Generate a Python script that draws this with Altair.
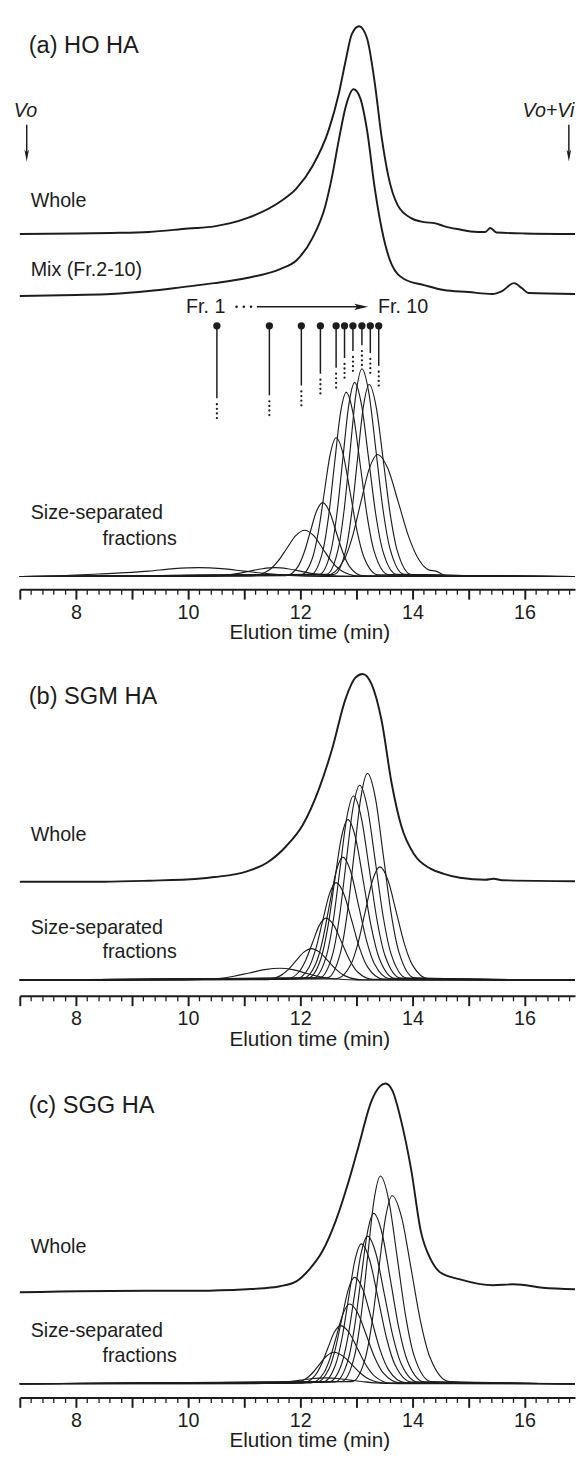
import altair as alt
import pandas as pd

FONT = "Liberation Sans"
INK = "#1c1c1c"

X_DOMAIN = [7.0, 16.9]
PLOT_W = 564
H_A, H_B, H_C = 579, 350, 345
SPACING = 63          # distance between plot areas (flush layout)
MAJOR_TICKS = [7, 8, 9, 10, 11, 12, 13, 14, 15, 16]
MINOR_TICKS = [round(7 + 0.2 * i, 1) for i in range(50) if i % 5 != 0]

# ---------------- panel (a) HO HA ----------------
A_WHOLE_T = [7.0, 8.0, 8.63, 9.30, 10.0, 10.47, 11.05, 11.64, 11.93, 12.22, 12.51, 12.69, 12.81, 12.92, 13.05,
             13.19, 13.33, 13.45, 13.57, 13.74, 13.98, 14.21, 14.39, 14.56, 14.8, 15.16, 15.30, 15.39, 15.5, 16.0, 16.9]
A_WHOLE_S = [0, 0.5, 1, 2, 5.5, 7.7, 16, 32.7, 46, 69, 106, 143, 176, 203, 211,
             199, 153, 99, 59, 29, 16, 12, 11, 8, 5, 2, 2, 6, 1.5, 0.5, 0]
A_MIX_T = [7.0, 8.0, 8.63, 9.30, 9.9, 10.47, 11.05, 11.64, 11.93, 12.22, 12.45, 12.57, 12.69, 12.81, 12.95,
           13.07, 13.19, 13.33, 13.45, 13.63, 13.86, 14.21, 14.56, 15.0, 15.42, 15.6, 15.81, 15.95, 16.07, 16.9]
A_MIX_S = [-2, -1, 0, 3, 7, 11, 16.3, 25.3, 34, 57, 90, 120, 157, 190, 208,
           199, 167, 107, 67, 30, 15, 9, 4, 2, 0, 3, 11, 6, 1, 0]
A_FR_T = [
    [7.0, 7.6, 8.4, 9.3, 9.75, 10.2, 10.6, 11.0, 11.4, 11.8, 12.4, 16.9],
    [7.0, 10.2, 10.65, 10.875, 11.1, 11.325, 11.55, 11.775, 12.0, 12.225, 12.45, 12.9, 16.9],
    [7.0, 11.12, 11.44, 11.60, 11.76, 11.92, 12.08, 12.24, 12.40, 12.56, 12.72, 13.04, 16.9],
    [7.0, 11.74, 11.96, 12.07, 12.18, 12.29, 12.40, 12.52, 12.64, 12.76, 12.88, 13.12, 16.9],
    [7.0, 12.01, 12.22, 12.325, 12.43, 12.535, 12.64, 12.765, 12.89, 13.015, 13.14, 13.39, 16.9],
    [7.0, 12.19, 12.40, 12.505, 12.61, 12.715, 12.82, 12.945, 13.07, 13.195, 13.32, 13.57, 16.9],
    [7.0, 12.34, 12.55, 12.655, 12.76, 12.865, 12.97, 13.095, 13.22, 13.345, 13.47, 13.72, 16.9],
    [7.0, 12.47, 12.68, 12.785, 12.89, 12.995, 13.10, 13.225, 13.35, 13.475, 13.60, 13.85, 16.9],
    [7.0, 12.60, 12.81, 12.915, 13.02, 13.125, 13.23, 13.355, 13.48, 13.605, 13.73, 13.98, 16.9],
    [7.0, 12.48, 12.78, 12.93, 13.08, 13.23, 13.38, 13.565, 13.75, 13.935, 14.12, 14.3, 14.42, 14.6, 16.9],
]
A_FR_S = [
    [0, 0.5, 2.5, 5.5, 8, 9, 8, 5.5, 3, 1.2, 0.2, 0],
    [0, 0.1, 1.2, 2.9, 5.5, 7.9, 9, 7.9, 5.5, 2.9, 1.2, 0.1, 0],
    [0, 0.5, 6.3, 15.3, 28.5, 41.5, 47, 41.5, 28.5, 15.3, 6.3, 0.5, 0],
    [0, 0.8, 10.1, 24.4, 45.5, 66.2, 75, 66.2, 45.5, 24.4, 10.1, 0.8, 0],
    [0, 1.6, 19.0, 45.8, 85.6, 124.4, 141, 124.4, 85.6, 45.8, 19.0, 1.6, 0],
    [0, 2.1, 25.2, 60.8, 113.5, 164.9, 187, 164.9, 113.5, 60.8, 25.2, 2.1, 0],
    [0, 2.2, 26.6, 64.0, 119.6, 173.8, 197, 173.8, 119.6, 64.0, 26.6, 2.2, 0],
    [0, 2.3, 28.5, 68.6, 128.1, 186.1, 211, 186.1, 128.1, 68.6, 28.5, 2.3, 0],
    [0, 2.1, 26.3, 63.4, 118.4, 172.0, 195, 172.0, 118.4, 63.4, 26.3, 2.1, 0],
    [0, 1.4, 16.7, 40.3, 75.3, 109.4, 124, 109.4, 75.3, 40.3, 16.7, 6.5, 5.5, 1.0, 0],
]
A_OFFSETS = {"whole": 361, "mix": 300, "fractions": 13}

# fraction markers of panel (a)
MARK_T = [10.514, 11.45, 12.02, 12.36, 12.64, 12.79, 12.94, 13.10, 13.25, 13.40]
MARK_TOP = 267.7
MARK_END = [194, 197, 207, 219, 225, 235, 242, 248, 240, 227]

# ---------------- panel (b) SGM HA ----------------
B_WHOLE_T = [7.0, 8.5, 9.30, 10.18, 10.47, 11.05, 11.40, 11.75, 12.05, 12.34, 12.57, 12.81, 12.98, 13.11,
             13.27, 13.45, 13.63, 13.80, 14.04, 14.33, 14.56, 14.85, 15.3, 15.45, 15.6, 16.9]
B_WHOLE_S = [0, 0, 1, 3, 4.7, 10.5, 19, 36, 58, 95, 135, 186, 207, 211,
             201, 164, 100, 57, 27, 13, 8, 4, 2, 3, 1.5, 0.5]
B_FR_T = [
    [7.0, 9.99, 10.54, 10.815, 11.09, 11.365, 11.64, 11.865, 12.09, 12.315, 12.54, 12.99, 16.9],
    [7.0, 11.36, 11.64, 11.78, 11.92, 12.06, 12.20, 12.35, 12.50, 12.65, 12.80, 13.10, 16.9],
    [7.0, 11.74, 11.98, 12.10, 12.22, 12.34, 12.46, 12.60, 12.74, 12.88, 13.02, 13.30, 16.9],
    [7.0, 11.92, 12.16, 12.28, 12.40, 12.52, 12.64, 12.78, 12.92, 13.06, 13.20, 13.48, 16.9],
    [7.0, 12.04, 12.28, 12.40, 12.52, 12.64, 12.76, 12.90, 13.04, 13.18, 13.32, 13.60, 16.9],
    [7.0, 12.13, 12.37, 12.49, 12.61, 12.73, 12.85, 12.99, 13.13, 13.27, 13.41, 13.69, 16.9],
    [7.0, 12.23, 12.47, 12.59, 12.71, 12.83, 12.95, 13.09, 13.23, 13.37, 13.51, 13.79, 16.9],
    [7.0, 12.34, 12.58, 12.70, 12.82, 12.94, 13.06, 13.20, 13.34, 13.48, 13.62, 13.90, 16.9],
    [7.0, 12.48, 12.72, 12.84, 12.96, 13.08, 13.20, 13.34, 13.48, 13.62, 13.76, 14.04, 16.9],
    [7.0, 12.64, 12.90, 13.03, 13.16, 13.29, 13.42, 13.565, 13.71, 13.855, 14.00, 14.29, 16.9],
]
B_FR_S = [
    [0, 0.1, 1.6, 3.9, 7.3, 10.6, 12, 10.6, 7.3, 3.9, 1.6, 0.1, 0],
    [0, 0.4, 4.3, 10.4, 19.4, 28.2, 32, 28.2, 19.4, 10.4, 4.3, 0.4, 0],
    [0, 0.7, 8.5, 20.5, 38.2, 55.6, 63, 55.6, 38.2, 20.5, 8.5, 0.7, 0],
    [0, 1.1, 13.4, 32.2, 60.1, 87.3, 99, 87.3, 60.1, 32.2, 13.4, 1.1, 0],
    [0, 1.4, 16.9, 40.6, 75.9, 110.3, 125, 110.3, 75.9, 40.6, 16.9, 1.4, 0],
    [0, 1.8, 22.0, 53.0, 98.9, 143.8, 163, 143.8, 98.9, 53.0, 22.0, 1.8, 0],
    [0, 2.1, 25.2, 60.8, 113.5, 164.9, 187, 164.9, 113.5, 60.8, 25.2, 2.1, 0],
    [0, 2.2, 26.7, 64.4, 120.2, 174.6, 198, 174.6, 120.2, 64.4, 26.7, 2.2, 0],
    [0, 2.3, 28.4, 68.3, 127.5, 185.2, 210, 185.2, 127.5, 68.3, 28.4, 2.3, 0],
    [0, 1.3, 15.5, 37.4, 69.8, 101.4, 115, 101.4, 69.8, 37.4, 15.5, 1.3, 0],
]
B_OFFSETS = {"whole": 116, "fractions": 16}

# ---------------- panel (c) SGG HA ----------------
C_WHOLE_T = [7.0, 9.30, 10.18, 11.05, 11.35, 11.64, 11.93, 12.16, 12.40, 12.63, 12.86, 13.04, 13.27, 13.42,
             13.52, 13.65, 13.80, 13.98, 14.15, 14.33, 14.50, 14.85, 15.44, 15.79, 15.95, 16.32, 16.9]
C_WHOLE_S = [0, 1.5, 1.5, 3, 4, 6, 11, 23, 42, 72, 112, 148, 194, 209,
             212, 204, 174, 124, 62, 33, 20, 13, 7, 8, 7.5, 4.5, 3]
C_FR_T = [
    [7.0, 11.10, 11.55, 11.775, 12.0, 12.225, 12.45, 12.675, 12.90, 13.125, 13.35, 13.80, 16.9],
    [7.0, 11.82, 12.08, 12.21, 12.34, 12.47, 12.60, 12.76, 12.92, 13.08, 13.24, 13.56, 16.9],
    [7.0, 12.03, 12.26, 12.375, 12.49, 12.605, 12.72, 12.87, 13.02, 13.17, 13.32, 13.62, 16.9],
    [7.0, 12.19, 12.42, 12.535, 12.65, 12.765, 12.88, 13.03, 13.18, 13.33, 13.48, 13.78, 16.9],
    [7.0, 12.28, 12.51, 12.625, 12.74, 12.855, 12.97, 13.12, 13.27, 13.42, 13.57, 13.87, 16.9],
    [7.0, 12.40, 12.63, 12.745, 12.86, 12.975, 13.09, 13.24, 13.39, 13.54, 13.69, 13.99, 16.9],
    [7.0, 12.51, 12.74, 12.855, 12.97, 13.085, 13.20, 13.35, 13.50, 13.65, 13.80, 14.10, 16.9],
    [7.0, 12.62, 12.85, 12.965, 13.08, 13.195, 13.31, 13.46, 13.61, 13.76, 13.91, 14.21, 16.9],
    [7.0, 12.74, 12.97, 13.085, 13.20, 13.315, 13.43, 13.58, 13.73, 13.88, 14.03, 14.33, 16.9],
    [7.0, 12.92, 13.16, 13.28, 13.40, 13.52, 13.64, 13.81, 13.98, 14.15, 14.32, 14.66, 16.9],
]
C_FR_S = [
    [0, 0.1, 0.8, 2.0, 3.6, 5.3, 6, 5.3, 3.6, 2.0, 0.8, 0.1, 0],
    [0, 0.4, 4.3, 10.4, 19.4, 28.2, 32, 28.2, 19.4, 10.4, 4.3, 0.4, 0],
    [0, 0.6, 8.0, 19.2, 35.8, 52.0, 59, 52.0, 35.8, 19.2, 8.0, 0.6, 0],
    [0, 0.9, 10.9, 26.3, 49.2, 71.4, 81, 71.4, 49.2, 26.3, 10.9, 0.9, 0],
    [0, 1.2, 14.6, 35.1, 65.6, 95.3, 108, 95.3, 65.6, 35.1, 14.6, 1.2, 0],
    [0, 1.6, 19.2, 46.2, 86.2, 125.2, 142, 125.2, 86.2, 46.2, 19.2, 1.6, 0],
    [0, 1.7, 20.3, 48.8, 91.1, 132.3, 150, 132.3, 91.1, 48.8, 20.3, 1.7, 0],
    [0, 1.9, 23.4, 56.2, 105.0, 152.6, 173, 152.6, 105.0, 56.2, 23.4, 1.9, 0],
    [0, 2.3, 28.5, 68.6, 128.1, 186.1, 211, 186.1, 128.1, 68.6, 28.5, 2.3, 0],
    [0, 2.1, 25.8, 62.1, 115.9, 168.5, 191, 168.5, 115.9, 62.1, 25.8, 2.1, 0],
]
C_OFFSETS = {"whole": 107, "fractions": 14}

# ---------------- helpers ----------------
XSCALE = alt.Scale(domain=X_DOMAIN, nice=False, zero=False)
MAJOR_AXIS = alt.Axis(
    orient="bottom",
    values=MAJOR_TICKS,
    tickSize=10,
    tickWidth=2,
    tickColor=INK,
    domainColor=INK,
    domainWidth=2,
    labelExpr="datum.value % 2 === 0 ? format(datum.value, 'd') : ''",
    labelFont=FONT,
    labelFontSize=20,
    labelColor=INK,
    labelPadding=3.5,
    labelOverlap=False,
    labelFlush=False,
    grid=False,
    title="Elution time (min)",
    titleFont=FONT,
    titleFontSize=21,
    titleFontWeight="normal",
    titleColor=INK,
    titleX=294,
    titleY=50,
    titleBaseline="alphabetic",
    titleAlign="center",
)
MINOR_AXIS = alt.Axis(
    orient="bottom",
    values=MINOR_TICKS,
    tickSize=5,
    tickWidth=1.3,
    tickColor=INK,
    domain=False,
    labels=False,
    grid=False,
    title=None,
)


def yscale(h):
    return alt.Scale(domain=[0, h], nice=False, zero=False)


def lines_df(groups):
    rows = []
    for name, times, sig, off in groups:
        for t, s in zip(times, sig):
            rows.append({"t": t, "v": s + off, "trace": name})
    return pd.DataFrame(rows)


def line_layer(df, h, width, axis=None):
    return alt.Chart(df).mark_line(
        interpolate="monotone", color=INK, strokeWidth=width, strokeJoin="round"
    ).encode(
        x=alt.X("t:Q", scale=XSCALE, axis=axis),
        y=alt.Y("v:Q", scale=yscale(h), axis=None),
        detail="trace:N",
    )


def text_layer(rows, h, size, align="left", style="normal"):
    df = pd.DataFrame(rows, columns=["t", "v", "label"])
    return alt.Chart(df).mark_text(
        font=FONT, fontSize=size, align=align, baseline="alphabetic", fontStyle=style, color=INK
    ).encode(
        x=alt.X("t:Q", scale=XSCALE, axis=None),
        y=alt.Y("v:Q", scale=yscale(h), axis=None),
        text="label:N",
    )


def rule_layer(df, h, width=1.4, dash=None):
    kw = dict(color=INK, strokeWidth=width)
    if dash is not None:
        kw.update(strokeDash=dash, strokeCap="round")
    enc = dict(y=alt.Y("v1:Q", scale=yscale(h), axis=None), y2="v2:Q",
               x=alt.X("t1:Q", scale=XSCALE, axis=None))
    if "t2" in df.columns:
        enc.update(x2="t2:Q")
    return alt.Chart(df).mark_rule(**kw).encode(**enc)


def point_layer(df, h, shape, size):
    return alt.Chart(df).mark_point(
        shape=shape, size=size, filled=True, opacity=1, color=INK, strokeWidth=0
    ).encode(
        x=alt.X("t:Q", scale=XSCALE, axis=None),
        y=alt.Y("v:Q", scale=yscale(h), axis=None),
    )


X_LABEL = 7.193
X_TITLE = 7.158
X_FRACTIONS = 8.474
THIN = 1.15
THICK = 1.95

# ---------------- panel (a) ----------------
a_thick = lines_df([("whole", A_WHOLE_T, A_WHOLE_S, A_OFFSETS["whole"]),
                    ("mix", A_MIX_T, A_MIX_S, A_OFFSETS["mix"])])
a_thin = lines_df([(f"fr{i+1}", t, s, A_OFFSETS["fractions"]) for i, (t, s) in enumerate(zip(A_FR_T, A_FR_S))])

a_layers = [
    line_layer(a_thick, H_A, THICK, axis=MAJOR_AXIS),
    line_layer(a_thin, H_A, THIN, axis=MINOR_AXIS),
    text_layer([(X_TITLE, 544.3, "(a) HO HA")], H_A, 24),
    text_layer([(X_LABEL, 388.7, "Whole"), (X_LABEL, 318.7, "Mix (Fr.2-10)"),
                (X_LABEL, 71, "Size-separated"), (X_FRACTIONS, 45.3, "fractions"),
                (9.965, 281, "Fr. 1"), (13.386, 281, "Fr. 10")], H_A, 20),
    text_layer([(7.1, 480.3, "Vo")], H_A, 20, align="center", style="italic"),
    text_layer([(16.89, 480.3, "Vo+Vi")], H_A, 20, align="right", style="italic"),
    # Vo and Vo+Vi arrows
    rule_layer(pd.DataFrame({"t1": [7.123, 16.79], "v1": [472, 472], "v2": [442, 442]}), H_A, 1.5),
    point_layer(pd.DataFrame({"t": [7.123, 16.79], "v": [440.5, 440.5]}), H_A,
                "M-0.38,-1L0,1L0.38,-1L0,-0.55Z", 144),
    # Fr.1 -> Fr.10 arrow
    rule_layer(pd.DataFrame({"t1": [11.228], "t2": [13.088], "v1": [287], "v2": [287]}), H_A, 1.4),
    point_layer(pd.DataFrame({"t": [13.088], "v": [287]}), H_A, "M-1,-0.45L1,0L-1,0.45L-0.6,0Z", 196),
    point_layer(pd.DataFrame({"t": [10.865, 10.994, 11.123], "v": [287, 287, 287]}), H_A, "circle", 7),
    # fraction markers
    rule_layer(pd.DataFrame({"t1": MARK_T, "v1": [MARK_TOP] * 10, "v2": MARK_END}), H_A, 1.5),
    rule_layer(pd.DataFrame({"t1": MARK_T, "v1": [e - 6 for e in MARK_END], "v2": [e - 20.2 for e in MARK_END]}),
               H_A, 2.3, dash=[0.01, 4.67]),
    point_layer(pd.DataFrame({"t": MARK_T, "v": [MARK_TOP] * 10}), H_A, "circle", 55),
]
panel_a = alt.layer(*a_layers).resolve_axis(x="independent").properties(width=PLOT_W, height=H_A)

# ---------------- panel (b) ----------------
b_thick = lines_df([("whole", B_WHOLE_T, B_WHOLE_S, B_OFFSETS["whole"])])
b_thin = lines_df([(f"fr{i+1}", t, s, B_OFFSETS["fractions"]) for i, (t, s) in enumerate(zip(B_FR_T, B_FR_S))])
panel_b = alt.layer(
    line_layer(b_thick, H_B, THICK, axis=MAJOR_AXIS),
    line_layer(b_thin, H_B, THIN, axis=MINOR_AXIS),
    text_layer([(X_TITLE, 296.7, "(b) SGM HA")], H_B, 24),
    text_layer([(X_LABEL, 157, "Whole"), (X_LABEL, 63.3, "Size-separated"),
                (X_FRACTIONS, 38.3, "fractions")], H_B, 20),
).resolve_axis(x="independent").properties(width=PLOT_W, height=H_B)

# ---------------- panel (c) ----------------
c_thick = lines_df([("whole", C_WHOLE_T, C_WHOLE_S, C_OFFSETS["whole"])])
c_thin = lines_df([(f"fr{i+1}", t, s, C_OFFSETS["fractions"]) for i, (t, s) in enumerate(zip(C_FR_T, C_FR_S))])
panel_c = alt.layer(
    line_layer(c_thick, H_C, THICK, axis=MAJOR_AXIS),
    line_layer(c_thin, H_C, THIN, axis=MINOR_AXIS),
    text_layer([(X_TITLE, 289, "(c) SGG HA")], H_C, 24),
    text_layer([(X_LABEL, 147.3, "Whole"), (X_LABEL, 61.3, "Size-separated"),
                (X_FRACTIONS, 36.3, "fractions")], H_C, 20),
).resolve_axis(x="independent").properties(width=PLOT_W, height=H_C)

chart = alt.vconcat(panel_a, panel_b, panel_c, spacing=SPACING, bounds="flush").resolve_scale(
    x="independent", y="independent"
).properties(
    padding={"left": 5, "top": 0, "right": 0, "bottom": 0}
).configure_view(stroke=None)

chart.save("out.html", embed_options={"renderer": "svg", "actions": False})
